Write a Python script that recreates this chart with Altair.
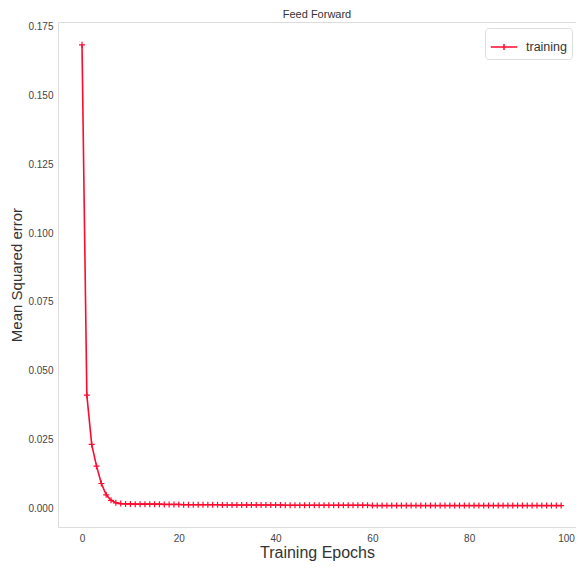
import altair as alt
import pandas as pd

epochs = list(range(100))
mse = [
    0.1684, 0.0411, 0.0232, 0.0153, 0.0090, 0.0049, 0.0029, 0.0020, 0.0017, 0.0016,
    0.0016, 0.0015, 0.0015, 0.0015, 0.0015, 0.0015, 0.0015, 0.0014, 0.0014, 0.0014,
    0.0014, 0.0013, 0.0013, 0.0013, 0.0013, 0.0013, 0.0013, 0.0013, 0.0013, 0.0012,
    0.0012, 0.0012, 0.0012, 0.0012, 0.0012, 0.0012, 0.0012, 0.0012, 0.0012, 0.0012,
    0.0012, 0.0012, 0.0011, 0.0011, 0.0011, 0.0011, 0.0011, 0.0011, 0.0011, 0.0011,
    0.0011, 0.0011, 0.0011, 0.0011, 0.0011, 0.0011, 0.0011, 0.0011, 0.0011, 0.0011,
    0.0010, 0.0010, 0.0010, 0.0010, 0.0010, 0.0010, 0.0010, 0.0010, 0.0010, 0.0010,
    0.0010, 0.0010, 0.0010, 0.0010, 0.0010, 0.0010, 0.0010, 0.0010, 0.0010, 0.0010,
    0.0010, 0.0010, 0.0010, 0.0010, 0.0010, 0.0010, 0.0010, 0.0010, 0.0010, 0.0010,
    0.0010, 0.0010, 0.0010, 0.0010, 0.0010, 0.0010, 0.0010, 0.0010, 0.0010, 0.0010,
]
series = ["training"] * len(epochs)
x_ticks = [0, 20, 40, 60, 80, 100]
y_ticks = [0.0, 0.025, 0.05, 0.075, 0.1, 0.125, 0.15, 0.175]

df = pd.DataFrame({"epoch": epochs, "mse": mse, "series": series})

RED = "#ff0a2e"
FONT = "Liberation Sans"
PLUS = "M-1,0L1,0M0,-1L0,1"

x_enc = alt.X("epoch:Q", scale=alt.Scale(domain=[-4.96, 102.07], nice=False, zero=False),
              axis=alt.Axis(values=x_ticks, title="Training Epochs", grid=False, ticks=False,
                            domain=False, labelFontSize=10, labelColor="#444",
                            labelPadding=6, titleFontSize=16, titleFontWeight="normal",
                            titleColor="#333", titlePadding=1, labelFont=FONT, titleFont=FONT))
y_enc = alt.Y("mse:Q", scale=alt.Scale(domain=[-0.0068, 0.1767], nice=False, zero=False),
              axis=alt.Axis(values=y_ticks, format=".3f", title="Mean Squared error", grid=False,
                            ticks=False, domain=False, labelFontSize=10, labelColor="#444",
                            labelPadding=5, titleFontSize=15, titleFontWeight="normal",
                            titleColor="#333", titlePadding=3, labelFont=FONT, titleFont=FONT))

color_enc = alt.Color("series:N", scale=alt.Scale(domain=["training"], range=[RED]),
                      legend=alt.Legend(title=None, orient="none", legendX=427, legendY=6,
                                        symbolType="M-1,0L1,0M0,-0.22L0,0.22", symbolSize=700,
                                        symbolStrokeWidth=1.5, symbolFillColor="transparent",
                                        labelFontSize=12.5, labelFont=FONT, labelColor="#333",
                                        strokeColor="#dddddd", padding=5, cornerRadius=3,
                                        fillColor="white", labelOffset=8))

line = alt.Chart(df).mark_line(strokeWidth=1.6, color=RED).encode(x=x_enc, y=y_enc, color=color_enc)
pts = alt.Chart(df).mark_point(shape=PLUS, size=36, filled=False, strokeWidth=1.2, opacity=1).encode(
    x="epoch:Q", y="mse:Q", color=alt.Color("series:N", legend=None, scale=alt.Scale(domain=["training"], range=[RED])))

chart = alt.layer(line, pts).properties(
    width=518, height=505,
    title=alt.TitleParams("Feed Forward", fontSize=11, font=FONT, fontWeight="normal", color="#333", offset=2),
    autosize=alt.AutoSizeParams(type="none"),
    padding={"left": 50, "top": 14, "right": 0, "bottom": 36},
).configure_view(stroke="#dddddd", strokeWidth=1).configure(background="white")

chart.save("out.html", embed_options={"renderer": "svg", "actions": False})
